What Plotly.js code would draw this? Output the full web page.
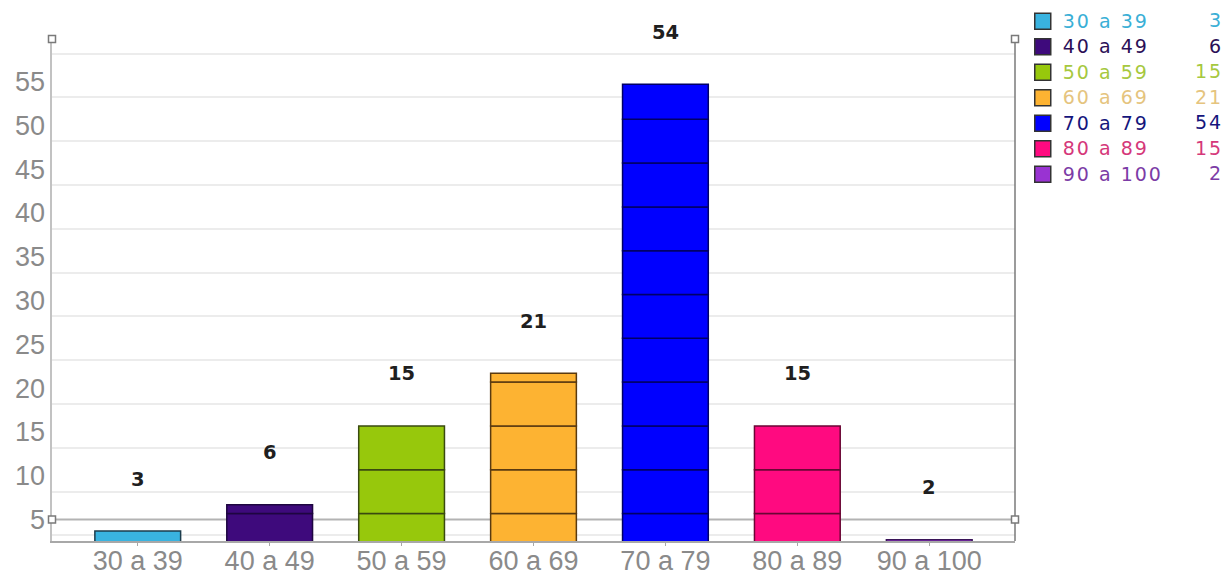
<!DOCTYPE html>
<html>
<head>
<meta charset="utf-8">
<script src="https://cdn.plot.ly/plotly-3.0.1.min.js"></script>
<style>
html,body{margin:0;padding:0;background:#ffffff;}
#chart{width:1225px;height:581px;}
</style>
</head>
<body>
<div id="chart"></div>
<script>
// ---- data ----
const categories = ['30 a 39', '40 a 49', '50 a 59', '60 a 69', '70 a 79', '80 a 89', '90 a 100'];
const counts = [3, 6, 15, 21, 54, 15, 2];
const barColors = ['#39B3E0', '#3E0A7C', '#97C80C', '#FDB332', '#0000FF', '#FF0A80', '#9933D2'];
const barLineColors = ['#1C3C4C', '#1E0640', '#3A4A10', '#5A3A10', '#000066', '#6A0634', '#3A1458'];
const legendTextColors = ['#3AAFD6', '#2B0F57', '#A6C83E', '#E5C47E', '#15157C', '#D5387A', '#7C3CA6'];
const yTickValues = [5, 10, 15, 20, 25, 30, 35, 40, 45, 50, 55];
const segmentSize = 5;

// ---- traces ----
const traces = [];
categories.forEach((cat, i) => {
  const bases = [], sizes = [];
  for (let b = 0; b < counts[i]; b += segmentSize) {
    bases.push(b);
    sizes.push(Math.min(segmentSize, counts[i] - b));
  }
  traces.push({
    type: 'bar',
    x: sizes.map(() => cat),
    y: sizes,
    base: bases,
    width: 0.65,
    marker: {color: barColors[i], line: {color: barLineColors[i], width: 1.5}},
    showlegend: false,
    hoverinfo: 'skip'
  });
});
const legendSpan = (txt, col) =>
  '<span style="color:' + col + ';font-size:19px;letter-spacing:2px">' + txt + '</span>';
categories.forEach((cat, i) => {
  traces.push({
    type: 'scatter',
    mode: 'markers',
    x: [null], y: [null],
    name: legendSpan(cat, legendTextColors[i]),
    marker: {symbol: 'square', size: 16, color: barColors[i], line: {color: '#333333', width: 1.5}},
    showlegend: true
  });
});

// ---- annotations ----
const annotations = categories.map((cat, i) => ({
  x: cat, y: counts[i], xref: 'x', yref: 'y',
  yshift: 52, showarrow: false,
  text: '<b>' + counts[i] + '</b>',
  font: {family: 'DejaVu Sans, sans-serif', size: 19.5, color: '#1f1f1f'}
}));
const legendRow0 = 1.0378, legendRowStep = 0.0508;
counts.forEach((v, i) => {
  annotations.push({
    xref: 'paper', yref: 'paper', x: 1.2185, y: legendRow0 - i * legendRowStep,
    xanchor: 'right', yanchor: 'middle', showarrow: false,
    text: legendSpan(String(v), legendTextColors[i]),
    font: {family: 'DejaVu Sans, sans-serif', size: 17.3, color: legendTextColors[i]}
  });
});

// ---- decorative frame (selection handles) ----
const frameBottom = 0.0428;
const handle = (xa, ya) => ({
  type: 'rect', xref: 'paper', yref: 'paper',
  xsizemode: 'pixel', ysizemode: 'pixel', xanchor: xa, yanchor: ya,
  x0: -3.5, x1: 3.5, y0: -3.5, y1: 3.5,
  fillcolor: '#ffffff', line: {color: '#7a7a7a', width: 1.5}
});
const shapes = [
  {type: 'line', xref: 'paper', yref: 'paper', x0: 0, x1: 1, y0: frameBottom, y1: frameBottom,
   line: {color: '#b3b3b3', width: 2}, layer: 'between'},
  {type: 'line', xref: 'paper', yref: 'paper', x0: 1, x1: 1, y0: 0, y1: 1,
   line: {color: '#7a7a7a', width: 1.5}},
  handle(0, 1), handle(0, frameBottom), handle(1, 1), handle(1, frameBottom)
];

const yRange = [1.86, 59.17];
const layout = {
  width: 1225, height: 581,
  margin: {l: 52, r: 210, t: 39, b: 40},
  paper_bgcolor: '#ffffff', plot_bgcolor: '#ffffff',
  barmode: 'overlay',
  showlegend: true,
  legend: {
    xref: 'container', yref: 'container',
    x: 0.8349, y: 0.994, xanchor: 'left', yanchor: 'top',
    font: {family: 'DejaVu Sans, sans-serif', size: 17.3, color: '#333'},
    bgcolor: 'rgba(0,0,0,0)', traceorder: 'normal'
  },
  xaxis: {
    type: 'category', range: [-0.65, 6.65],
    showline: true, linecolor: '#a8a8a8', linewidth: 2,
    ticks: 'outside', ticklen: 3, tickcolor: '#a8a8a8',
    ticklabelstandoff: -8,
    showgrid: false, zeroline: false, automargin: false,
    tickfont: {family: 'Liberation Sans, Arial, sans-serif', size: 27, color: '#8a8a8a'},
    fixedrange: true
  },
  yaxis: {
    range: yRange, tick0: 2.5, dtick: 5,
    showticklabels: false, ticks: '',
    showgrid: true, gridcolor: '#ececec', gridwidth: 2,
    zeroline: false, automargin: false,
    showline: true, linecolor: '#c2c2c2', linewidth: 2,
    fixedrange: true
  },
  yaxis2: {
    overlaying: 'y', side: 'left', range: yRange,
    tickmode: 'array', tickvals: yTickValues, ticktext: yTickValues.map(String),
    showgrid: false, zeroline: false, showline: false, ticks: '', automargin: false,
    ticklabelshift: 6, ticklabelstandoff: 6,
    tickfont: {family: 'Liberation Sans, Arial, sans-serif', size: 27, color: '#8a8a8a'},
    fixedrange: true
  },
  annotations: annotations,
  shapes: shapes
};
// dummy trace to activate yaxis2
traces.push({type: 'scatter', mode: 'markers', x: [null], y: [null], yaxis: 'y2', showlegend: false, hoverinfo: 'skip'});

Plotly.newPlot('chart', traces, layout, {displayModeBar: false, staticPlot: true});
</script>
</body>
</html>
